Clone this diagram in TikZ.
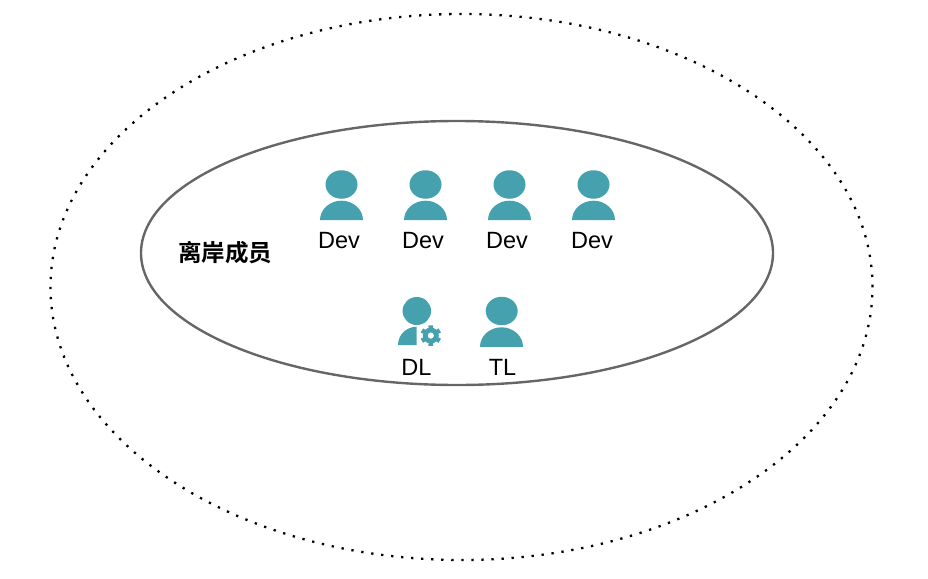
\documentclass[tikz,border=0pt]{standalone}
\usepackage{fontspec}
\setmainfont{Liberation Sans}
\newfontfamily\cjkfont{Noto Sans CJK SC}[BoldFont={* Bold}]
\usetikzlibrary{shapes.geometric}
\definecolor{teal1}{HTML}{46A1AE}
\definecolor{ring}{HTML}{666666}
\tikzset{
  x=1pt,y=-1pt,
  outerring/.style={ellipse,draw=black,line width=2.3pt,dash pattern=on 2.3pt off 7.75pt,minimum width=822pt,minimum height=546pt,inner sep=0pt},
  innerring/.style={ellipse,draw=ring,line width=2.4pt,minimum width=632pt,minimum height=264pt,inner sep=0pt},
  headshape/.style={ellipse,fill=teal1,inner sep=0pt,minimum width=32pt,minimum height=28.5pt},
  headsmall/.style={ellipse,fill=teal1,inner sep=0pt,minimum width=28.5pt,minimum height=28pt},
  bodyshape/.style={fill=teal1},
  rolelabel/.style={font=\fontsize{23.5}{26}\selectfont,text=black,inner sep=0pt},
  grouplabel/.style={font=\cjkfont\bfseries\fontsize{23.5}{26}\selectfont,text=black,inner sep=0pt}
}
\newcommand{\personbody}[2]{\fill[bodyshape] (#1-21.5,#2+19.5) arc[start angle=180,end angle=360,x radius=21.5,y radius=19.5] -- cycle;}
\begin{document}
\begin{tikzpicture}
\useasboundingbox (0,0) rectangle (928,578);
\node[outerring] (outer) at (461.5,287) {};
\node[innerring] (inner) at (457,253) {};
\node[grouplabel] (group) at (225,253) {离岸成员};
\foreach \n/\hx/\lx in {a/341.5/339,b/425.5/423,c/509.5/507,d/593.5/592}{
  \node[headshape] (head\n) at (\hx,184.5) {};
  \personbody{\hx}{200.7}
  \node[rolelabel] (dev\n) at (\lx,240.5) {Dev};
}
\node[headsmall] (headdl) at (416.8,311) {};
\fill[bodyshape] (416.7,345) -- (398,345) arc[start angle=180,end angle=270,x radius=18.7,y radius=18.3] -- cycle;
\begin{scope}[shift={(430.8,335.6)}]
  \fill[teal1]
    \foreach \a in {30,90,...,330}{
      (\a-17:7.6) -- (\a-13:10.6) -- (\a+13:10.6) -- (\a+17:7.6) -- cycle
    };
  \fill[teal1,even odd rule] (0,0) circle[radius=8] (0,0) circle[radius=3.2];
\end{scope}
\node[rolelabel] (dl) at (416.5,367.5) {DL};
\node[headshape] (headtl) at (501.7,311) {};
\personbody{501.5}{327.3}
\node[rolelabel] (tl) at (502.5,367.5) {TL};
\end{tikzpicture}
\end{document}
